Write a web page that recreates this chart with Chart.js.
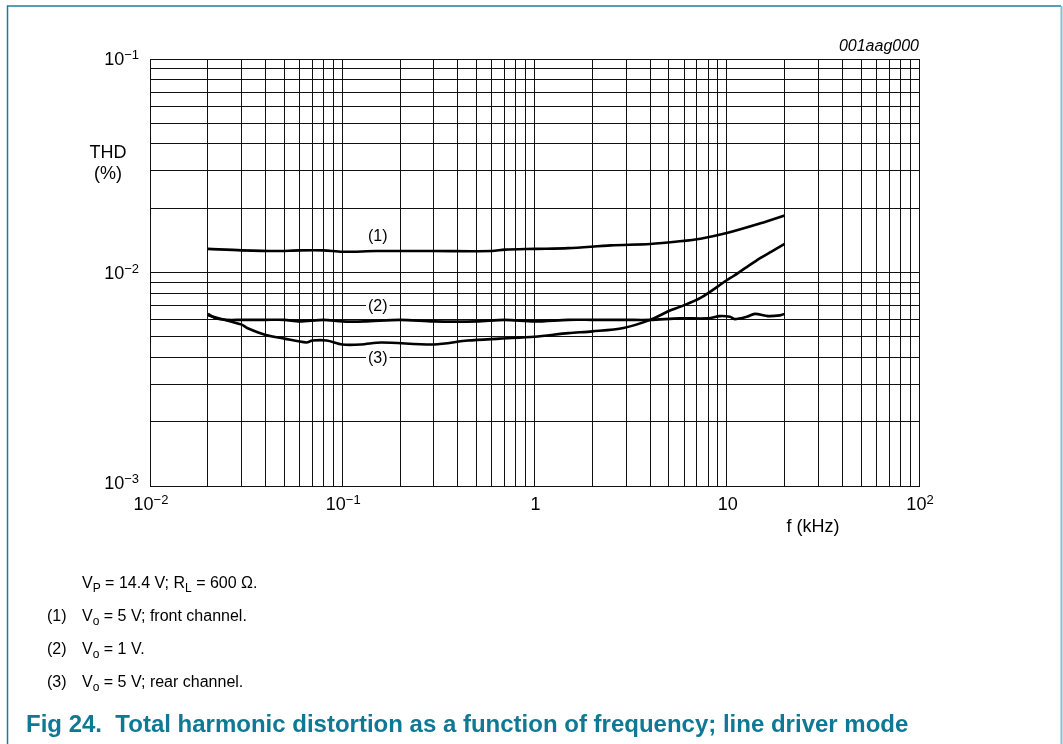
<!DOCTYPE html>
<html>
<head>
<meta charset="utf-8">
<script src="https://cdn.jsdelivr.net/npm/chart.js@4.4.1/dist/chart.umd.min.js"></script>
<style>
  html, body { margin: 0; padding: 0; background: #fff; }
  #wrap { width: 1063px; height: 744px; position: relative; }
</style>
</head>
<body>
<div id="wrap"><canvas id="thdChart" width="1063" height="744"></canvas></div>
<script>
// curve (1): Vo = 5 V, front channel
const freq1 = [0.02, 0.03, 0.045, 0.06, 0.08, 0.1, 0.15, 0.3, 0.6, 0.7, 1.0, 1.5, 2.5, 4, 5.7, 7.3, 10, 15, 20];
const thd1 = [0.0129, 0.0127, 0.0126, 0.0127, 0.0127, 0.0125, 0.0126, 0.0126, 0.0126, 0.0128, 0.0129, 0.0130, 0.0134, 0.0136, 0.0140, 0.0144, 0.0153, 0.0170, 0.0185];

// curve (2): Vo = 1 V
const freq2 = [0.02, 0.022, 0.025, 0.03, 0.04, 0.05, 0.06, 0.08, 0.1, 0.13, 0.2, 0.3, 0.5, 0.7, 1, 1.5, 2, 3, 4, 5.7, 8, 9.2, 10.4, 11, 12.7, 14, 16.4, 18.9, 20];
const thd2 = [0.0064, 0.0061, 0.0060, 0.0060, 0.0060, 0.0060, 0.0059, 0.0060, 0.0059, 0.0059, 0.0060, 0.0059, 0.0059, 0.0060, 0.0059, 0.0060, 0.0060, 0.0060, 0.0060, 0.0061, 0.0061, 0.00625, 0.0062, 0.00605, 0.0062, 0.0064, 0.00625, 0.0063, 0.0064];

// curve (3): Vo = 5 V, rear channel
const freq3 = [0.02, 0.03, 0.032, 0.04, 0.05, 0.065, 0.07, 0.083, 0.1, 0.125, 0.16, 0.3, 0.45, 0.66, 1, 1.5, 2, 2.9, 4, 5, 5.7, 7.3, 10, 10.8, 12.7, 15, 17, 20];
const thd3 = [0.0063, 0.0057, 0.0055, 0.0051, 0.0049, 0.0047, 0.0048, 0.0048, 0.0046, 0.0046, 0.0047, 0.0046, 0.0048, 0.0049, 0.0050, 0.0052, 0.0053, 0.0055, 0.0060, 0.0066, 0.0069, 0.0076, 0.0092, 0.0096, 0.0106, 0.0117, 0.0125, 0.0136];

// tick labels: [mantissa, exponent]
const xTickValues = [0.01, 0.1, 1, 10, 100];
const xTickLabels = [['10', '\u22122'], ['10', '\u22121'], ['1', ''], ['10', ''], ['10', '2']];
const yTickValues = [0.001, 0.01, 0.1];
const yTickLabels = [['10', '\u22123'], ['10', '\u22122'], ['10', '\u22121']];

// curve labels [text, freq, thd]
const curveLabels = [['(1)', 0.153, 0.0150], ['(2)', 0.153, 0.0070], ['(3)', 0.153, 0.0040]];

const FONT = '"Liberation Sans", Arial, sans-serif';
const TEAL = '#0f7894';

// log grid values for the decades
function logGrid(lo, hi) {
  const out = [];
  for (let e = lo; e < hi; e++) {
    for (let k = 1; k < 10; k++) out.push(k * Math.pow(10, e));
  }
  out.push(Math.pow(10, hi));
  return out;
}

function toPoints(xs, ys) {
  return xs.map((x, i) => ({ x: x, y: ys[i] }));
}

// draw a run of text pieces, some sub/superscript
function drawRich(ctx, parts, x, y, size, align, smallSize) {
  const small = smallSize || Math.round(size * 0.72);
  let total = 0;
  parts.forEach(p => {
    ctx.font = (p.sub || p.sup ? small : size) + 'px ' + FONT;
    p.w = ctx.measureText(p.t).width;
    total += p.w;
  });
  let cx = x;
  if (align === 'center') cx = x - total / 2;
  if (align === 'right') cx = x - total;
  ctx.textAlign = 'left';
  ctx.textBaseline = 'middle';
  parts.forEach(p => {
    ctx.font = (p.sub || p.sup ? small : size) + 'px ' + FONT;
    let dy = 0;
    if (p.sup) dy = -size * 0.26;
    if (p.sub) dy = size * 0.3;
    ctx.fillText(p.t, cx, y + dy);
    cx += p.w;
  });
}

const decorPlugin = {
  id: 'decor',
  beforeDraw(chart) {
    const ctx = chart.ctx;
    ctx.save();
    ctx.fillStyle = '#fff';
    ctx.fillRect(0, 0, chart.width, chart.height);
    // frame
    ctx.strokeStyle = '#1a7f9b';
    ctx.lineWidth = 1.5;
    ctx.beginPath();
    ctx.moveTo(7.5, 744);
    ctx.lineTo(7.5, 6);
    ctx.lineTo(1061, 6);
    ctx.stroke();
    ctx.strokeStyle = '#86bfcd';
    ctx.lineWidth = 2;
    ctx.beginPath();
    ctx.moveTo(1061.5, 6);
    ctx.lineTo(1061.5, 744);
    ctx.stroke();
    ctx.restore();
  },
  afterDatasetsDraw(chart) {
    const ctx = chart.ctx;
    const xs = chart.scales.x;
    const ys = chart.scales.y;
    ctx.save();
    ctx.fillStyle = '#000';

    // curve labels with white backing over the grid
    ctx.font = '16px ' + FONT;
    curveLabels.forEach(l => {
      const px = xs.getPixelForValue(l[1]);
      const py = ys.getPixelForValue(l[2]);
      const w = ctx.measureText(l[0]).width;
      ctx.fillStyle = '#fff';
      ctx.fillRect(px - w / 2 - 2, py - 9, w + 4, 18);
      ctx.fillStyle = '#000';
      ctx.textAlign = 'center';
      ctx.textBaseline = 'middle';
      ctx.fillText(l[0], px, py + 1.5);
    });

    // tick labels
    xTickValues.forEach((v, i) => {
      const px = xs.getPixelForValue(v);
      const lab = xTickLabels[i];
      drawRich(ctx, [{ t: lab[0] }, { t: lab[1], sup: true }], px + 1, 505, 18, 'center', 13);
    });
    yTickValues.forEach((v, i) => {
      const py = ys.getPixelForValue(v);
      const lab = yTickLabels[i];
      const shift = i === 0 ? -2 : 1.5;
      drawRich(ctx, [{ t: lab[0] }, { t: lab[1], sup: true }], 139, py + shift, 18, 'right', 13);
    });

    // axis titles
    ctx.font = '18px ' + FONT;
    ctx.textAlign = 'center';
    ctx.textBaseline = 'middle';
    ctx.fillText('THD', 108, 153);
    ctx.fillText('(%)', 108, 174);
    ctx.fillText('f (kHz)', 813, 527);

    ctx.font = 'italic 16px ' + FONT;
    ctx.textAlign = 'right';
    ctx.fillText('001aag000', 919, 47);

    // notes below the chart
    drawRich(ctx, [{ t: 'V' }, { t: 'P', sub: true }, { t: ' = 14.4 V; R' }, { t: 'L', sub: true }, { t: ' = 600 \u03A9.' }], 82, 584, 16, 'left');
    const notes = [
      ['(1)', [{ t: 'V' }, { t: 'o', sub: true }, { t: ' = 5 V; front channel.' }]],
      ['(2)', [{ t: 'V' }, { t: 'o', sub: true }, { t: ' = 1 V.' }]],
      ['(3)', [{ t: 'V' }, { t: 'o', sub: true }, { t: ' = 5 V; rear channel.' }]]
    ];
    notes.forEach((n, i) => {
      const y = 617 + i * 33;
      drawRich(ctx, [{ t: n[0] }], 47, y, 16, 'left');
      drawRich(ctx, n[1], 82, y, 16, 'left');
    });

    ctx.fillStyle = TEAL;
    ctx.font = 'bold 24px ' + FONT;
    ctx.textAlign = 'left';
    ctx.textBaseline = 'middle';
    ctx.fillText('Fig 24.\u00A0\u00A0Total harmonic distortion as a function of frequency; line driver mode', 26, 725);
    ctx.restore();
  }
};

const lineStyle = {
  borderColor: '#000',
  borderWidth: 2.6,
  pointRadius: 0,
  tension: 0.3,
  fill: false
};

new Chart(document.getElementById('thdChart'), {
  type: 'line',
  data: {
    datasets: [
      Object.assign({ label: '(1)', data: toPoints(freq1, thd1) }, lineStyle),
      Object.assign({ label: '(2)', data: toPoints(freq2, thd2) }, lineStyle),
      Object.assign({ label: '(3)', data: toPoints(freq3, thd3) }, lineStyle)
    ]
  },
  options: {
    responsive: false,
    devicePixelRatio: 1,
    animation: false,
    layout: { padding: { left: 150, top: 59, right: 144, bottom: 258 } },
    plugins: { legend: { display: false }, tooltip: { enabled: false } },
    scales: {
      x: {
        type: 'logarithmic',
        min: 0.01,
        max: 100,
        afterBuildTicks: s => { s.ticks = logGrid(-2, 2).map(v => ({ value: v })); },
        ticks: { display: false },
        grid: { color: '#111', lineWidth: 1, drawTicks: false },
        border: { color: '#111', width: 1 }
      },
      y: {
        type: 'logarithmic',
        min: 0.001,
        max: 0.1,
        afterBuildTicks: s => { s.ticks = logGrid(-3, -1).map(v => ({ value: v })); },
        ticks: { display: false },
        grid: { color: '#111', lineWidth: 1, drawTicks: false },
        border: { color: '#111', width: 1 }
      }
    }
  },
  plugins: [decorPlugin]
});
</script>
</body>
</html>
